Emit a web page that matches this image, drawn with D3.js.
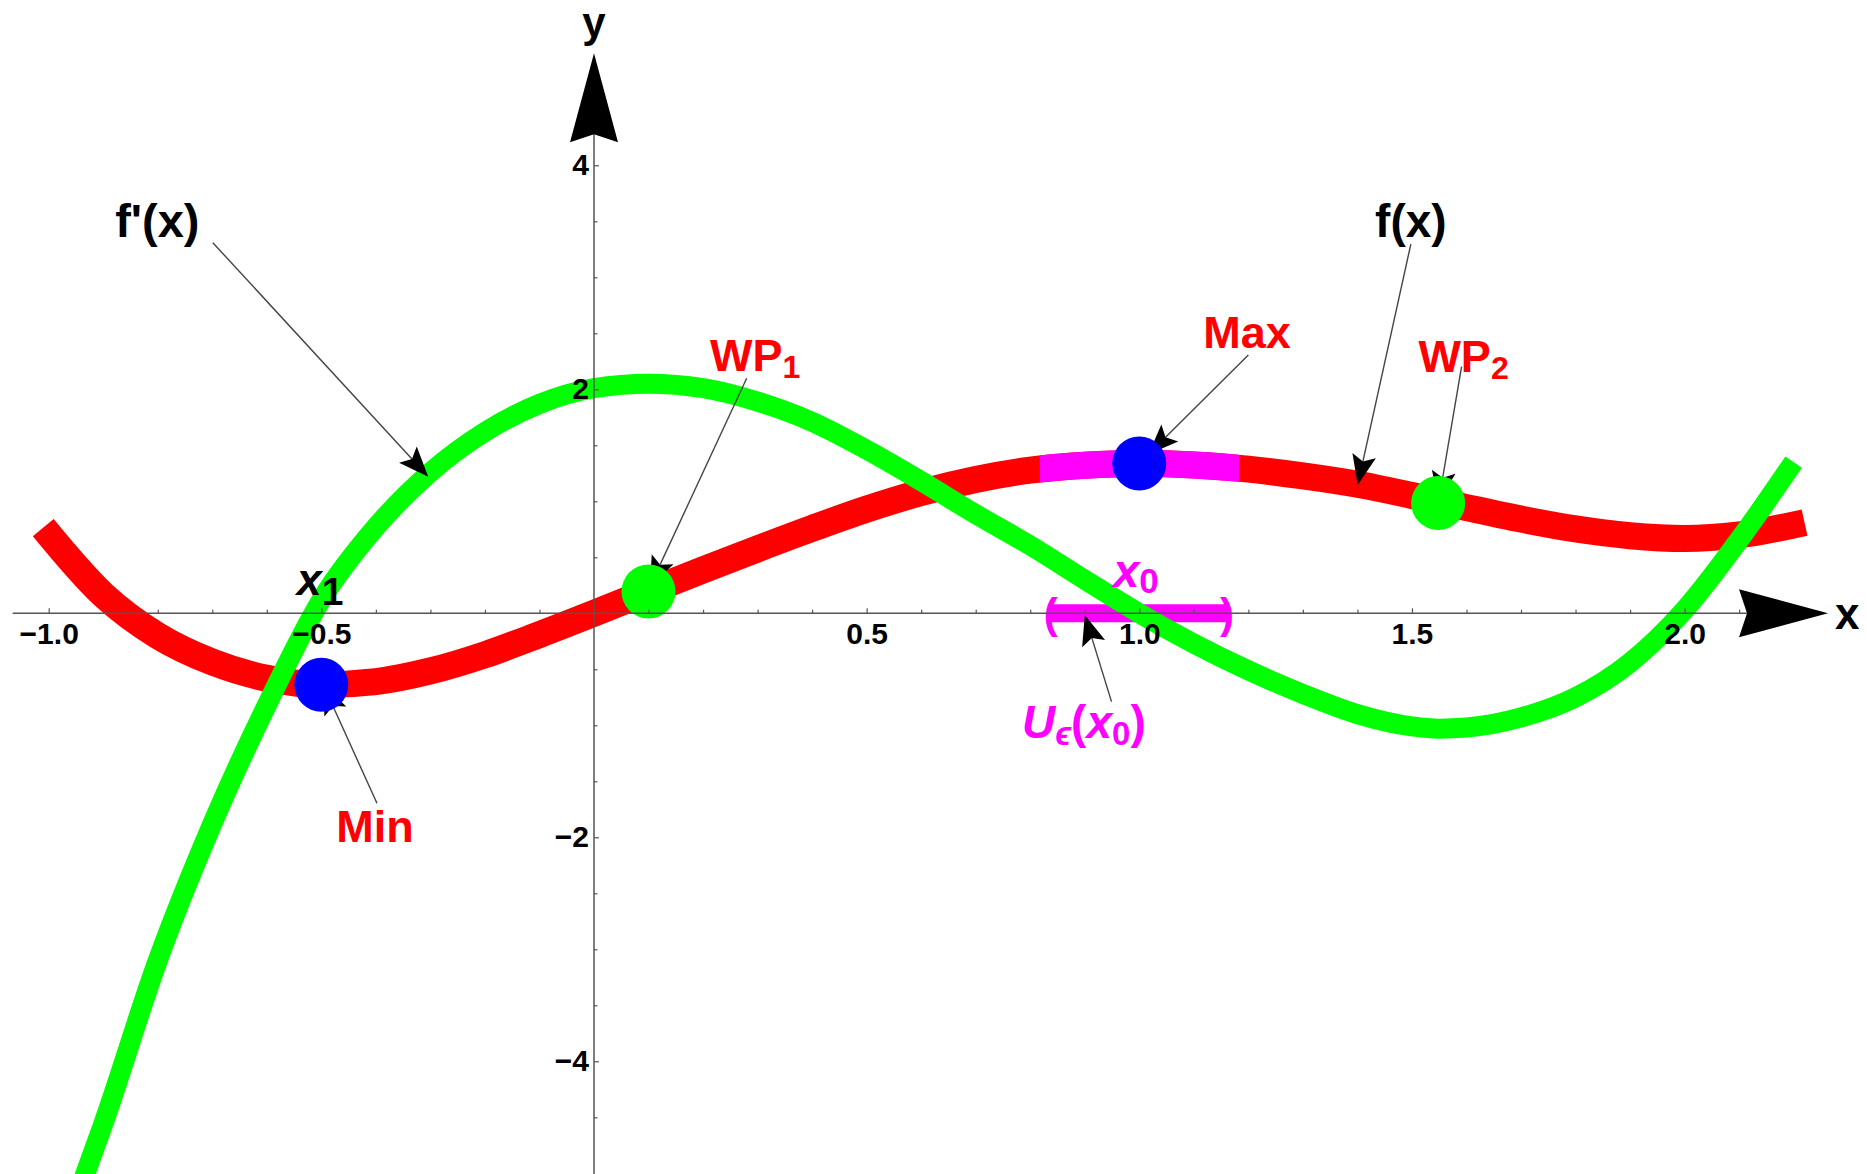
<!DOCTYPE html>
<html>
<head>
<meta charset="utf-8">
<script src="https://cdn.jsdelivr.net/npm/d3@7"></script>
<style>
  html, body { margin: 0; padding: 0; background: #fff; }
  svg { display: block; }
</style>
</head>
<body>
<svg id="chart" width="1867" height="1174"></svg>
<script>
// ---- f(x): sampled values of the function ----
const fX = [-1.01, -0.9, -0.8, -0.7, -0.6, -0.5, -0.4, -0.3, -0.2, -0.1, 0.0, 0.1, 0.2, 0.3, 0.4, 0.5, 0.6, 0.7,
            0.8, 0.9, 1.0, 1.1, 1.2, 1.3, 1.4, 1.5, 1.6, 1.7, 1.8, 1.9, 2.0, 2.1, 2.22];
const fY = [0.765, 0.165, -0.2, -0.435, -0.58, -0.638, -0.61, -0.515, -0.37, -0.19, 0.0, 0.195, 0.388, 0.576, 0.758, 0.93, 1.078, 1.195,
            1.278, 1.322, 1.338, 1.325, 1.287, 1.227, 1.152, 1.052, 0.944, 0.841, 0.753, 0.693, 0.668, 0.70, 0.81];

// ---- f'(x): sampled values of the derivative ----
const dX = [-0.94, -0.9, -0.8, -0.7, -0.6, -0.5, -0.4, -0.3, -0.2, -0.1, 0.0, 0.1, 0.2, 0.3, 0.4, 0.5, 0.6,
            0.7, 0.8, 0.9, 1.0, 1.1, 1.2, 1.3, 1.4, 1.5, 1.55, 1.6, 1.7, 1.8, 1.9, 2.0, 2.1, 2.2];
const dY = [-5.1, -4.56, -3.1, -1.88, -0.82, 0.12, 0.77, 1.26, 1.62, 1.87, 2.01, 2.05, 2.01, 1.89, 1.71, 1.46, 1.18,
            0.885, 0.605, 0.30, 0.0, -0.27, -0.51, -0.72, -0.90, -1.01, -1.03, -1.02, -0.93, -0.75, -0.44, 0.03, 0.655, 1.35];

// ---- special points on f ----
const extremaX = [-0.5, 1.0];          // Min, Max
const extremaY = [-0.638, 1.338];
const inflectX = [0.1, 1.548];         // WP1, WP2
const inflectY = [0.195, 0.985];

// ---- epsilon neighbourhood of x0 ----
const x0 = 1.0;
const nbhdOnAxis = [0.832, 1.168];
const nbhdOnCurve = [0.818, 1.183];

// ---- tick values ----
const xMajorTicks = [-1.0, -0.5, 0.5, 1.0, 1.5, 2.0];
const yMajorTicks = [-4, -2, 2, 4];
const xMinorTicks = d3.range(-10, 22).map(k => k / 10).filter(v => Math.abs(v) > 1e-9 && Math.abs(v * 2 - Math.round(v * 2)) > 1e-9);
const yMinorTicks = d3.range(-9, 9).map(k => k / 2).filter(v => v !== 0 && v % 2 !== 0);

// ---- layout ----
const W = 1867, H = 1174;
const FONT = "'Liberation Sans', Arial, Helvetica, sans-serif";
const x = d3.scaleLinear().domain([-1, 2]).range([48.7, 1684.6]);
const y = d3.scaleLinear().domain([-4, 4]).range([1061.3, 165.3]);

const RED = "#ff0000", GREEN = "#00ff00", BLUE = "#0000ff", MAGENTA = "#ff00ff";

const svg = d3.select("#chart");
svg.append("rect").attr("width", W).attr("height", H).attr("fill", "#fff");

const line = d3.line().x(d => x(d[0])).y(d => y(d[1])).curve(d3.curveMonotoneX);
const fPts = d3.zip(fX, fY);
const dPts = d3.zip(dX, dY);

// f(x) curve
svg.append("path").attr("d", line(fPts))
  .attr("fill", "none").attr("stroke", RED).attr("stroke-width", 27);

// highlighted neighbourhood on the curve around the maximum
svg.append("clipPath").attr("id", "nbhdClip")
  .append("rect")
  .attr("x", x(nbhdOnCurve[0])).attr("width", x(nbhdOnCurve[1]) - x(nbhdOnCurve[0]))
  .attr("y", 0).attr("height", H);
svg.append("path").attr("d", line(fPts)).attr("clip-path", "url(#nbhdClip)")
  .attr("fill", "none").attr("stroke", MAGENTA).attr("stroke-width", 27);

// neighbourhood interval on the x axis
svg.append("line")
  .attr("x1", x(nbhdOnAxis[0]) + 3).attr("x2", x(nbhdOnAxis[1]) - 3)
  .attr("y1", y(0)).attr("y2", y(0))
  .attr("stroke", MAGENTA).attr("stroke-width", 18);
svg.append("text").text("(")
  .attr("x", x(nbhdOnAxis[0]) - 4).attr("y", y(0) + 15)
  .attr("font-family", FONT).attr("font-weight", "bold").attr("font-size", 42)
  .attr("fill", MAGENTA).attr("text-anchor", "start");
svg.append("text").text(")")
  .attr("x", x(nbhdOnAxis[1]) + 3).attr("y", y(0) + 15)
  .attr("font-family", FONT).attr("font-weight", "bold").attr("font-size", 42)
  .attr("fill", MAGENTA).attr("text-anchor", "end");

// f'(x) curve
svg.append("path").attr("d", line(dPts))
  .attr("fill", "none").attr("stroke", GREEN).attr("stroke-width", 20);

// ---- annotation arrows (from label towards target) ----
const arrows = [
  { from: [-0.699, 3.309], to: [-0.304, 1.22] },   // f'(x)
  { from: [1.498, 3.297],  to: [1.4005, 1.1455] }, // f(x)
  { from: [0.28, 2.098],   to: [0.1027, 0.24] },   // WP1
  { from: [1.591, 2.202],  to: [1.549, 1.0] },     // WP2
  { from: [1.200, 2.306],  to: [1.0169, 1.421] },  // Max
  { from: [-0.398, -1.696], to: [-0.497, -0.633] },// Min
  { from: [0.949, -0.789], to: [0.900, -0.015] }   // U_eps(x0)
];

function arrowHead(tx, ty, ang, len, half, notch) {
  const c = Math.cos(ang), s = Math.sin(ang);
  const pt = (u, v) => [tx + u * c - v * s, ty + u * s + v * c];
  const p1 = pt(-len, half), p2 = pt(-len + notch, 0), p3 = pt(-len, -half);
  return `M${tx},${ty}L${p1[0]},${p1[1]}L${p2[0]},${p2[1]}L${p3[0]},${p3[1]}Z`;
}

const gArrows = svg.append("g");
arrows.forEach(a => {
  const sx = x(a.from[0]), sy = y(a.from[1]), tx = x(a.to[0]), ty = y(a.to[1]);
  const ang = Math.atan2(ty - sy, tx - sx);
  const len = 30;
  gArrows.append("line")
    .attr("x1", sx).attr("y1", sy)
    .attr("x2", tx - (len - 6) * Math.cos(ang)).attr("y2", ty - (len - 6) * Math.sin(ang))
    .attr("stroke", "#444").attr("stroke-width", 1.4);
  gArrows.append("path").attr("d", arrowHead(tx, ty, ang, len, 12, 6)).attr("fill", "#000");
});

// ---- special points ----
const dots = svg.append("g");
dots.selectAll("circle.ext").data(d3.zip(extremaX, extremaY)).join("circle")
  .attr("class", "ext").attr("cx", d => x(d[0])).attr("cy", d => y(d[1])).attr("r", 27).attr("fill", BLUE);
dots.selectAll("circle.wp").data(d3.zip(inflectX, inflectY)).join("circle")
  .attr("class", "wp").attr("cx", d => x(d[0])).attr("cy", d => y(d[1])).attr("r", 27).attr("fill", GREEN);

// ---- axes ----
const AXIS = "#555";
const axes = svg.append("g");
axes.append("line")
  .attr("x1", x(-1.066)).attr("x2", x(2.15)).attr("y1", y(0)).attr("y2", y(0))
  .attr("stroke", AXIS).attr("stroke-width", 1.5);
axes.append("line")
  .attr("x1", x(0)).attr("x2", x(0)).attr("y1", y(-5.2)).attr("y2", y(4.4))
  .attr("stroke", AXIS).attr("stroke-width", 1.5);

function styleAxis(g) {
  g.select(".domain").remove();
  g.selectAll(".tick line").attr("stroke", AXIS).attr("stroke-width", 1.2);
  g.selectAll(".tick text").attr("fill", "#000")
    .attr("font-family", FONT).attr("font-weight", "bold").attr("font-size", 30);
}

axes.append("g").attr("transform", `translate(0,${y(0)})`)
  .call(d3.axisBottom(x).tickValues(xMinorTicks).tickSize(-3.5).tickFormat(""))
  .call(styleAxis);
axes.append("g").attr("transform", `translate(0,${y(0)})`)
  .call(d3.axisBottom(x).tickValues(xMajorTicks).tickSize(-5).tickPadding(9).tickFormat(d3.format(".1f")))
  .call(styleAxis);
axes.append("g").attr("transform", `translate(${x(0)},0)`)
  .call(d3.axisLeft(y).tickValues(yMinorTicks).tickSize(-3.5).tickFormat(""))
  .call(styleAxis);
axes.append("g").attr("transform", `translate(${x(0)},0)`)
  .call(d3.axisLeft(y).tickValues(yMajorTicks).tickSize(-5).tickPadding(5).tickFormat(d3.format("d")))
  .call(styleAxis);

// axis arrowheads
axes.append("path").attr("d", arrowHead(x(2.263), y(0), 0, 89, 24, 8)).attr("fill", "#000");
axes.append("path").attr("d", arrowHead(x(0), y(5.0), -Math.PI / 2, 89, 24, 8)).attr("fill", "#000");

// ---- labels ----
function richText(parts, o) {
  const t = svg.append("text")
    .attr("x", x(o.at[0])).attr("y", y(o.at[1]))
    .attr("text-anchor", o.anchor || "start")
    .attr("fill", o.color).attr("font-size", o.size)
    .attr("font-weight", "bold").attr("font-family", FONT);
  let shift = 0;
  parts.forEach(p => {
    const s = t.append("tspan").text(p.t);
    const target = p.sub ? o.subShift : 0;
    if (target !== shift) { s.attr("dy", target - shift); shift = target; }
    if (p.sub) s.attr("font-size", o.subSize);
    if (p.it) s.attr("font-style", "italic");
  });
  return t;
}

richText([{ t: "y" }], { at: [0, 5.15], anchor: "middle", color: "#000", size: 42 });
richText([{ t: "x" }], { at: [2.276, -0.14], anchor: "start", color: "#000", size: 44 });

richText([{ t: "f'(x)" }], { at: [-0.878, 3.36], color: "#000", size: 47 });
richText([{ t: "f(x)" }], { at: [1.498, 3.36], anchor: "middle", color: "#000", size: 46 });
richText([{ t: "Max" }], { at: [1.1975, 2.369], anchor: "middle", color: RED, size: 45 });
richText([{ t: "Min" }], { at: [-0.4016, -2.04], anchor: "middle", color: RED, size: 45 });
richText([{ t: "WP" }, { t: "1", sub: true }], { at: [0.2127, 2.166], color: RED, size: 45, subSize: 32, subShift: 7.5 });
richText([{ t: "WP" }, { t: "2", sub: true }], { at: [1.5118, 2.157], color: RED, size: 45, subSize: 32, subShift: 7.5 });
richText([{ t: "x", it: true }, { t: "1", sub: true }], { at: [-0.545, 0.163], color: "#000", size: 45, subSize: 39, subShift: 10 });
richText([{ t: "x", it: true }, { t: "0", sub: true }], { at: [0.952, 0.235], color: MAGENTA, size: 47, subSize: 35, subShift: 6 });
richText([{ t: "U", it: true }, { t: "\u03F5", it: true, sub: true }, { t: "(" }, { t: "x", it: true }, { t: "0", sub: true }, { t: ")" }],
  { at: [0.785, -1.113], color: MAGENTA, size: 46, subSize: 33, subShift: 7 });
</script>
</body>
</html>
